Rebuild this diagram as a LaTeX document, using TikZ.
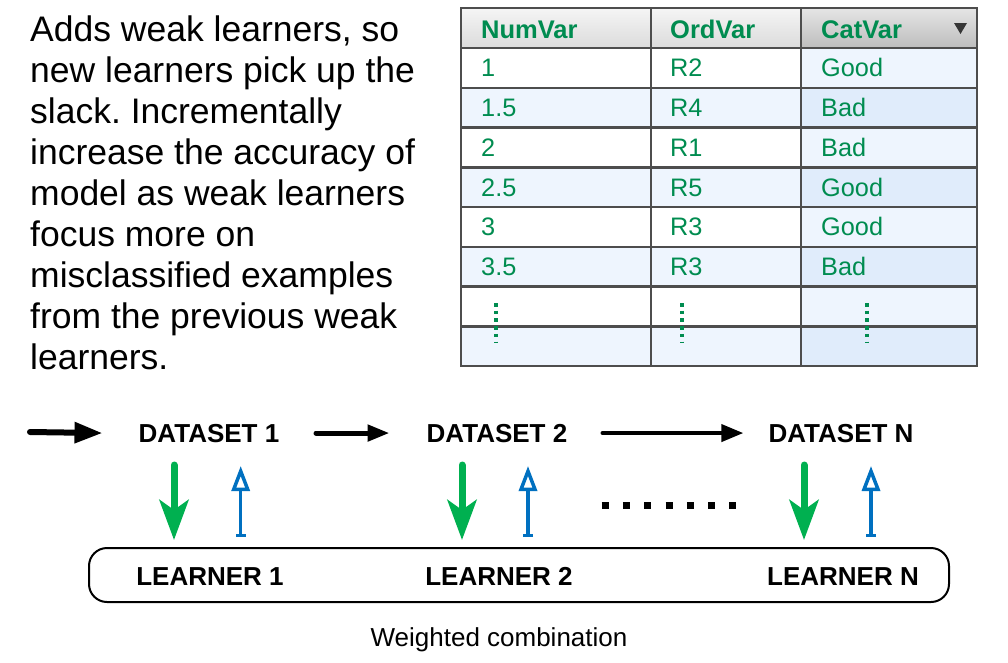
\documentclass[tikz,border=0pt]{standalone}
\usepackage{fontspec}
\setmainfont{Liberation Sans}
\usetikzlibrary{arrows.meta}
\definecolor{tgreen}{RGB}{0,140,80}
\definecolor{agreen}{RGB}{0,176,80}
\definecolor{ablue}{RGB}{0,112,192}
\definecolor{gridc}{RGB}{77,77,77}
\definecolor{rowblue}{RGB}{238,245,254}
\definecolor{colblue}{RGB}{224,236,251}
\frenchspacing
\begin{document}
\begin{tikzpicture}[x=1pt,y=-1pt,
  bodytext/.style={inner sep=0pt, anchor=base west, font=\fontsize{35.5}{40}\selectfont},
  cell/.style={inner sep=0pt, anchor=base west, text=tgreen, font=\fontsize{25.3}{28}\selectfont},
  hcell/.style={inner sep=0pt, anchor=base west, text=tgreen, font=\fontsize{25.5}{28}\selectfont\bfseries},
  lbl/.style={inner sep=0pt, anchor=base, font=\fontsize{26}{30}\selectfont\bfseries},
  gridline/.style={draw=gridc, line width=2.5pt},
  vdots/.style={draw=tgreen, line width=3.6pt, dash pattern=on 3.6pt off 4.1pt},
  garrow/.style={draw=agreen, line width=7pt, line cap=round, -{Stealth[length=40pt,width=29pt,inset=10pt]}},
  barrow/.style={draw=ablue, line width=3.5pt, {Bar[width=10pt]}-{Triangle[open,length=25pt,width=18pt]}}
]
\useasboundingbox (0,0) rectangle (1008,662);

% ---- left text ----
\foreach \t [count=\i] in {{Adds weak learners, so},{new learners pick up the},{slack. Incrementally},{increase the accuracy of},{model as weak learners},{focus more on},{misclassified examples},{from the previous weak},{learners.}}{
  \node[bodytext] (txt\i) at (30,{41.8+40.9*(\i-1)}) {\t};
}

% ---- table ----
\shade[top color=white!96!black, bottom color=white!86!black] (461,8) rectangle (801,48);
\shade[top color=white!90!black, bottom color=white!74!black] (801,8) rectangle (977,48);
\foreach \k in {1,...,8}{
  \pgfmathsetmacro{\ya}{48+39.75*(\k-1)}
  \pgfmathsetmacro{\yb}{48+39.75*\k}
  \ifodd\k
    \fill[white] (461,\ya) rectangle (801,\yb);
    \fill[rowblue] (801,\ya) rectangle (977,\yb);
  \else
    \fill[rowblue] (461,\ya) rectangle (801,\yb);
    \fill[colblue] (801,\ya) rectangle (977,\yb);
  \fi
}
\foreach \k in {0,...,8}{
  \draw[gridline] (461,{48+39.75*\k}) -- (977,{48+39.75*\k});
}
\draw[gridline] (651,8) -- (651,366);
\draw[gridline] (801,8) -- (801,366);
\draw[gridline] (461,8) rectangle (977,366);
\fill[gridc!70!black] (954,23) -- (967,23) -- (960.5,34) -- cycle;

\node[hcell] (hnum) at (481,38.3) {NumVar};
\node[hcell] (hord) at (670,38.3) {OrdVar};
\node[hcell] (hcat) at (821,38.3) {CatVar};

\foreach \a/\b/\c [count=\r] in {1/R2/Good,1.5/R4/Bad,2/R1/Bad,2.5/R5/Good,3/R3/Good,3.5/R3/Bad}{
  \node[cell] (ca\r) at (481,{76.8+39.75*(\r-1)}) {\a};
  \node[cell] (cb\r) at (670,{76.8+39.75*(\r-1)}) {\b};
  \node[cell] (cc\r) at (821,{76.8+39.75*(\r-1)}) {\c};
}
\draw[vdots] (496,303) -- (496,343);
\draw[vdots] (682,303) -- (682,343);
\draw[vdots] (867,303) -- (867,343);

% ---- flow ----
\node[lbl] (d1) at (209,442) {DATASET 1};
\node[lbl] (d2) at (497,442) {DATASET 2};
\node[lbl] (dn) at (841,442) {DATASET N};

\node[draw, line width=2pt, rounded corners=18pt, minimum width=860pt, minimum height=54pt, inner sep=0pt] (lbox) at (519,575) {};
\node[lbl] (l1) at (210,585) {LEARNER 1};
\node[lbl] (l2) at (499,585) {LEARNER 2};
\node[lbl] (ln) at (843,585) {LEARNER N};

\node[inner sep=0pt, anchor=base, font=\fontsize{26}{30}\selectfont] (wc) at (499,646.5) {Weighted combination};

\coordinate (s0) at (30,432);
\draw[line width=6pt, line cap=round, -{Triangle[length=28pt,width=20pt]}] (s0) -- ([xshift=-36pt]d1.west);
\draw[line width=5pt, line cap=round, -{Triangle[length=22pt,width=16pt]}] ([xshift=36.5pt]d1.east) -- ([xshift=-37pt]d2.west);
\draw[line width=4pt, line cap=round, -{Triangle[length=22pt,width=17pt]}] ([xshift=35pt]d2.east) -- ([xshift=-25pt]dn.west);

\foreach \g/\b/\n in {174/240.7/1,462/528/2,804/871/3}{
  \coordinate (ga\n) at (\g,465);
  \coordinate (gb\n) at (\g,540);
  \coordinate (ba\n) at (\b,537);
  \coordinate (bb\n) at (\b,466);
  \draw[garrow] (ga\n) -- (gb\n);
  \draw[barrow] (ba\n) -- (bb\n);
}

\draw[line width=7pt, dash pattern=on 7pt off 14.33pt] (601.5,505) -- (736.5,505);
\end{tikzpicture}
\end{document}
